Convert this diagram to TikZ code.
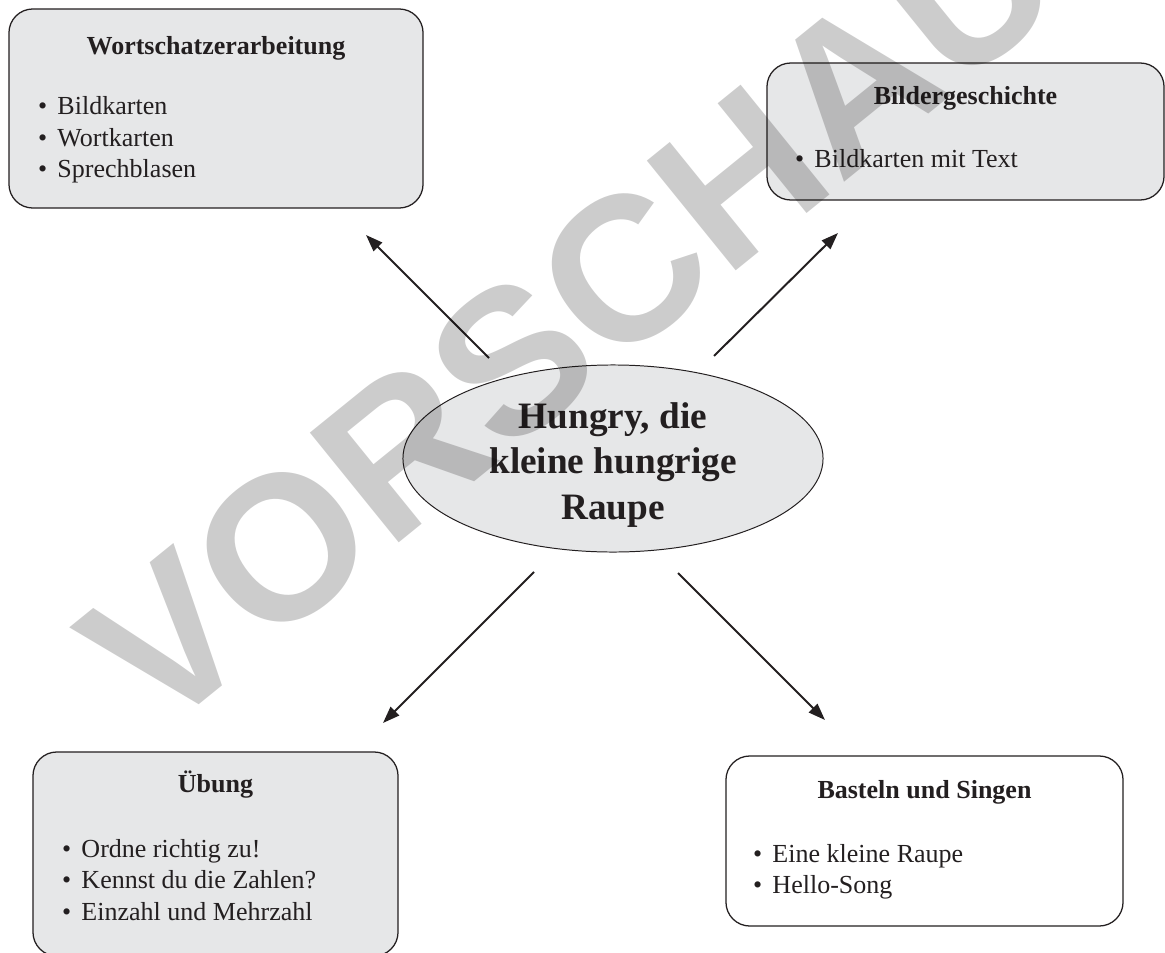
\documentclass[tikz,border=0pt]{standalone}
\usepackage{fontspec}
\setmainfont{Liberation Serif}
\newfontfamily\stampfont{Liberation Sans}
\usetikzlibrary{arrows.meta, positioning, shapes.geometric}

\definecolor{boxgray}{HTML}{E6E7E8}
\definecolor{inkblack}{HTML}{231F20}
\definecolor{stampgray}{HTML}{CCCCCC}

\newcommand{\bitem}[1]{\makebox[0.75em][l]{\textbullet}#1}

\begin{document}
\begin{tikzpicture}[
    x=0.025cm, y=-0.025cm,
    >={Triangle[length=12pt,width=8.5pt]},
    every node/.style={inner sep=0pt, outer sep=0pt, text=inkblack},
    topic/.style={draw=inkblack, line width=0.9pt, rounded corners=17pt, fill=boxgray},
    topichead/.style={anchor=base, font=\fontsize{18.5}{22.4}\selectfont\bfseries},
    topiclist/.style={anchor=base west, font=\fontsize{18.5}{22.4}\selectfont},
    link/.style={->, line width=1.4pt, draw=inkblack}
]
\useasboundingbox (0,0) rectangle (1165,953);
\clip (0,0) rectangle (1165,953);

% Boxes
\node[topic, minimum width=10.35cm, minimum height=4.975cm] (wort) at (216,108.5) {};
\node[topic, minimum width=9.925cm, minimum height=3.425cm] (bild) at (965.5,131.5) {};
\node[topic, minimum width=9.125cm, minimum height=5.1cm] (uebung) at (215.5,854) {};
\node[topic, fill=white, minimum width=9.925cm, minimum height=4.25cm] (basteln) at (924.5,841) {};

% Centre
\node[ellipse, draw=inkblack, line width=0.7pt, fill=boxgray,
      minimum width=10.5cm, minimum height=4.675cm] (raupe) at (613,458.5) {};
\node[anchor=base, font=\fontsize{26.5}{32.7}\selectfont\bfseries] (raupeText) at (613,428)
    {\begin{tabular}[t]{@{}c@{}}Hungry, die\\ kleine hungrige\\ Raupe\end{tabular}};

% Texts
\node[topichead] (wortHead) at (216,55) {Wortschatzerarbeitung};
\node[topiclist] (wortList) at (38,115)
    {\begin{tabular}[t]{@{}l@{}}\bitem{Bildkarten}\\ \bitem{Wortkarten}\\ \bitem{Sprechblasen}\end{tabular}};

\node[topichead] (bildHead) at (965.5,105) {Bildergeschichte};
\node[topiclist] (bildList) at (795,167) {\bitem{Bildkarten mit Text}};

\node[topichead] (uebungHead) at (215.5,792) {Übung};
\node[topiclist] (uebungList) at (62,857)
    {\begin{tabular}[t]{@{}l@{}}\bitem{Ordne richtig zu!}\\ \bitem{Kennst du die Zahlen?}\\ \bitem{Einzahl und Mehrzahl}\end{tabular}};

\node[topichead] (bastelnHead) at (924.5,798) {Basteln und Singen};
\node[topiclist] (bastelnList) at (753,862)
    {\begin{tabular}[t]{@{}l@{}}\bitem{Eine kleine Raupe}\\ \bitem{Hello-Song}\end{tabular}};

% Arrows
\coordinate (nwFrom) at (489,358);
\coordinate (nwTo) at (366,235);
\coordinate (neFrom) at (714,356);
\coordinate (neTo) at (838,233);
\coordinate (swFrom) at (534,572);
\coordinate (swTo) at (383,723);
\coordinate (seFrom) at (678,573);
\coordinate (seTo) at (825,720);

\draw[link] (nwFrom) -- (nwTo);
\draw[link] (neFrom) -- (neTo);
\draw[link] (swFrom) -- (swTo);
\draw[link] (seFrom) -- (seTo);

% Watermark
\begin{scope}[blend mode=multiply]
\node[rotate=39, text=stampgray, font=\stampfont\fontsize{146}{146}\selectfont\bfseries] (stamp) at (570,314) {VORSCHAU};
\end{scope}

\end{tikzpicture}
\end{document}
